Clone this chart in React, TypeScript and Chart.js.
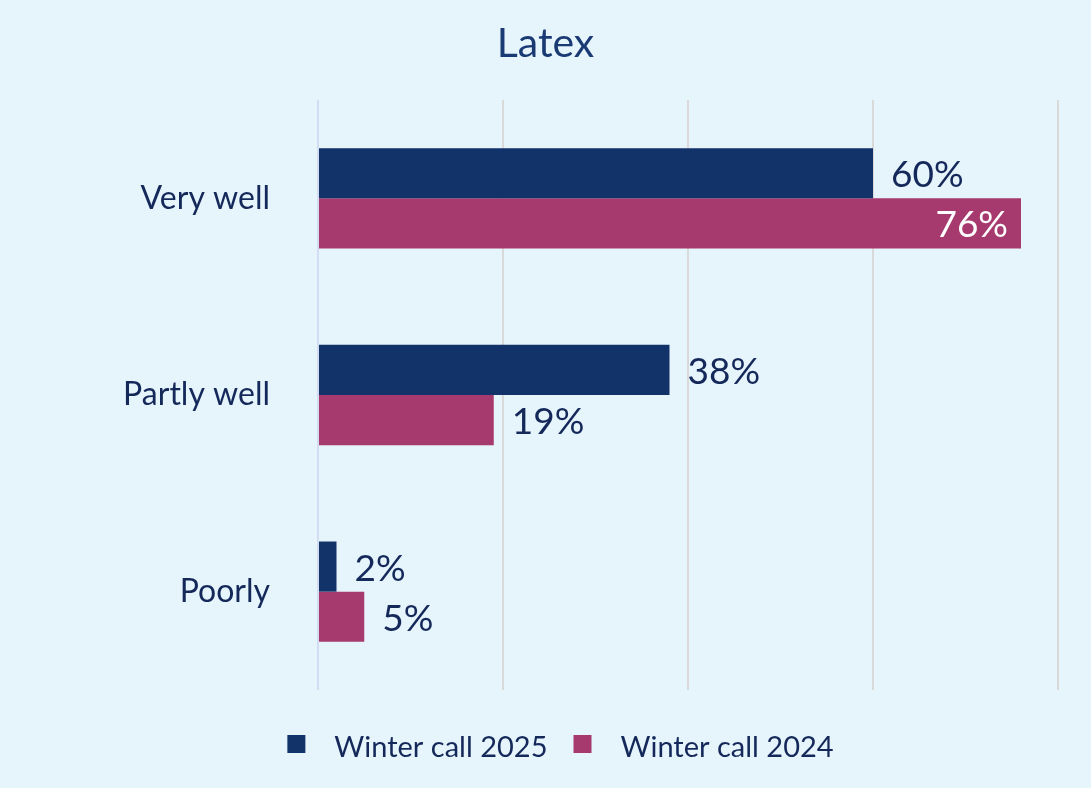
import React, { useEffect, useRef } from "react";
import { Chart, registerables } from "chart.js";

Chart.register(...registerables);

const categories = ["Very well", "Partly well", "Poorly"];
const series2025 = [60, 38, 2];
const series2024 = [76, 19, 5];
const seriesNames = ["Winter call 2025", "Winter call 2024"];
const xTicks = [0, 20, 40, 60, 80];
const chartTitle = "Latex";

const NAVY = "#12326A";
const PINK = "#A63A6E";
const TEXT = "#14295A";
const BG = "#E6F4FC";
const FONT = "Lato, 'Open Sans', sans-serif";

const labelPlugin = {
  id: "valueLabels",
  afterDatasetsDraw(chart: any) {
    const ctx = chart.ctx;
    ctx.save();
    ctx.font = `37px ${FONT}`;
    ctx.textBaseline = "middle";
    chart.data.datasets.forEach((ds: any, di: number) => {
      const meta = chart.getDatasetMeta(di);
      meta.data.forEach((bar: any, i: number) => {
        const v = ds.data[i];
        const txt = `${v}%`;
        if (v > 70) {
          ctx.fillStyle = "#FFFFFF";
          ctx.textAlign = "right";
          ctx.fillText(txt, bar.x - 13, bar.y + 2);
        } else {
          ctx.fillStyle = TEXT;
          ctx.textAlign = "left";
          ctx.fillText(txt, bar.x + 18, bar.y + 2);
        }
      });
    });
    ctx.restore();
  },
  afterDraw(chart: any) {
    const ctx = chart.ctx;
    ctx.save();
    // title
    ctx.font = `41px ${FONT}`;
    ctx.fillStyle = "#1A3A74";
    ctx.textAlign = "center";
    ctx.textBaseline = "middle";
    ctx.fillText(chartTitle, chart.width / 2, 44);
    // legend
    ctx.font = `29px ${FONT}`;
    ctx.textAlign = "left";
    const box = 18;
    const gap = 29;
    const itemGap = 26;
    const colors = [NAVY, PINK];
    const widths = seriesNames.map((n) => box + gap + ctx.measureText(n).width);
    const total = widths.reduce((a, b) => a + b, 0) + itemGap;
    let x = chart.width / 2 + 15 - total / 2;
    const y = 748;
    seriesNames.forEach((n, i) => {
      ctx.fillStyle = colors[i];
      ctx.fillRect(x, y - box / 2 - 4, box, box);
      ctx.fillStyle = TEXT;
      ctx.fillText(n, x + box + gap, y);
      x += widths[i] + itemGap;
    });
    ctx.restore();
  },
};

export default function App() {
  const ref = useRef<HTMLCanvasElement>(null);
  useEffect(() => {
    if (!ref.current) return;
    const chart = new Chart(ref.current, {
      type: "bar",
      data: {
        labels: categories,
        datasets: [
          { label: seriesNames[0], data: series2025, backgroundColor: NAVY, categoryPercentage: 0.51, barPercentage: 1 },
          { label: seriesNames[1], data: series2024, backgroundColor: PINK, categoryPercentage: 0.51, barPercentage: 1 },
        ],
      },
      options: {
        indexAxis: "y",
        responsive: false,
        animation: false,
        layout: { padding: { top: 100, right: 33, bottom: 98, left: 0 } },
        scales: {
          x: {
            min: xTicks[0],
            max: xTicks[xTicks.length - 1],
            afterBuildTicks: (s: any) => {
              s.ticks = xTicks.map((v) => ({ value: v }));
            },
            ticks: { display: false },
            grid: {
              drawTicks: false,
              lineWidth: 2,
              color: (c: any) => (c.tick && c.tick.value === 0 ? "#D3DDF1" : "#D9D9D9"),
            },
            border: { display: false },
            afterFit: (s: any) => {
              s.height = 0;
            },
          },
          y: {
            grid: { display: false, drawTicks: false },
            border: { display: false },
            ticks: { color: TEXT, font: { family: FONT, size: 32 }, padding: 48 },
            afterFit: (s: any) => {
              s.width = 318;
            },
          },
        },
        plugins: {
          legend: { display: false },
          tooltip: { enabled: false },
          title: { display: false },
        },
      } as any,
      plugins: [labelPlugin],
    });
    return () => chart.destroy();
  }, []);
  return (
    <div style={{ position: "fixed", left: 0, top: 0, width: 1091, height: 788, background: BG }}>
      <canvas ref={ref} width={1091} height={788} />
    </div>
  );
}
